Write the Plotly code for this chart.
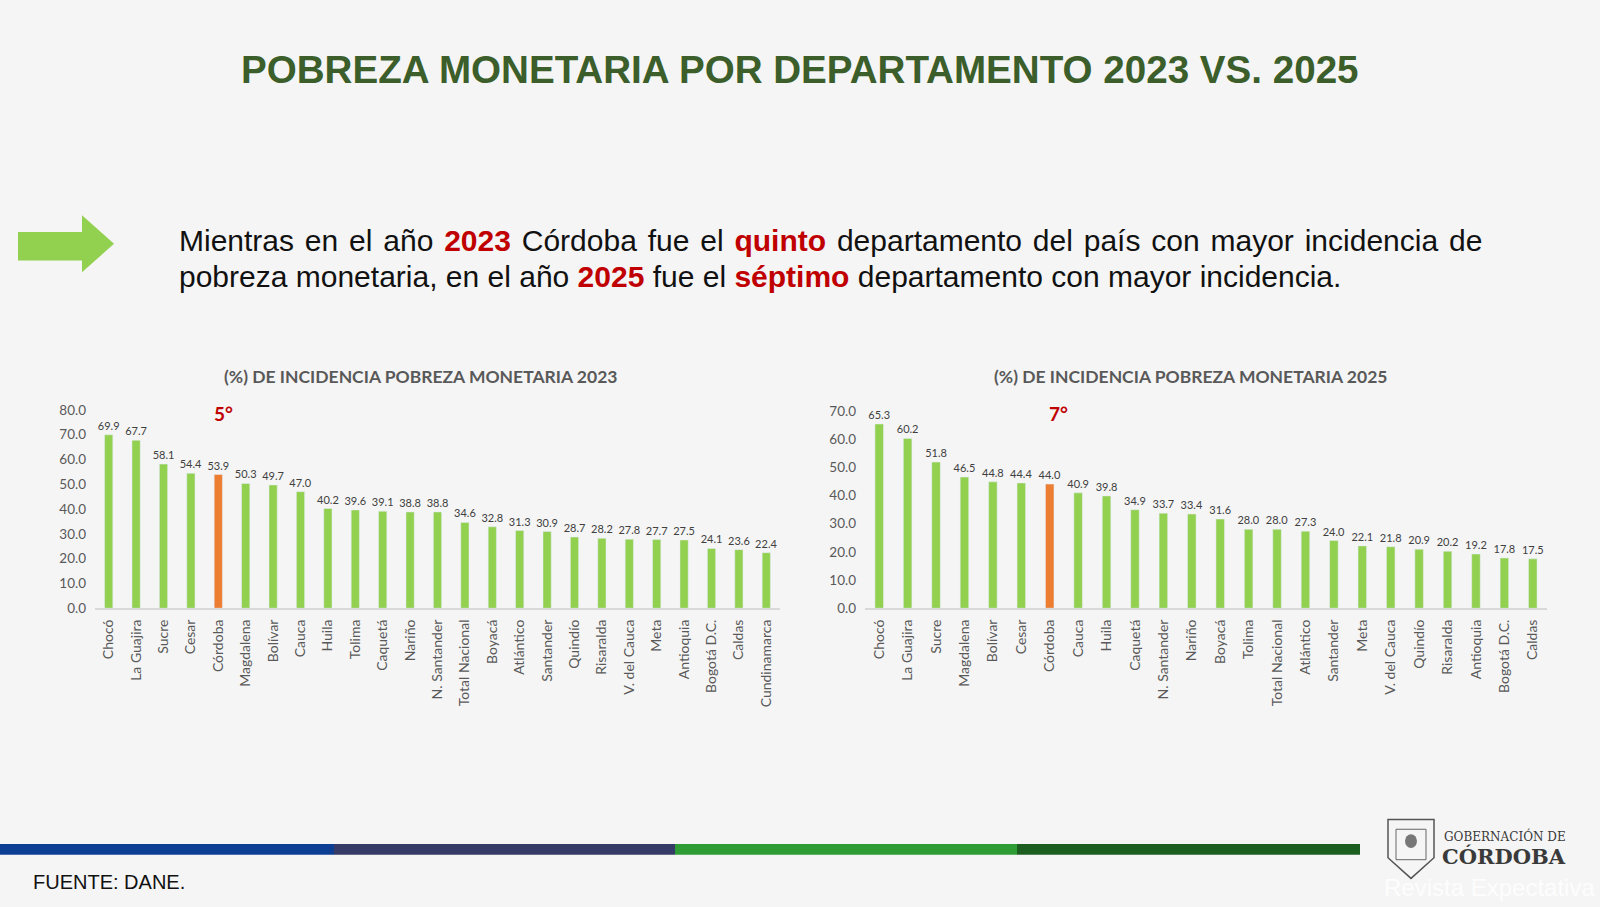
import plotly.graph_objects as go

W, H = 1600, 907

deptos_2023 = ["Chocó", "La Guajira", "Sucre", "Cesar", "Córdoba", "Magdalena", "Bolívar", "Cauca",
               "Huila", "Tolima", "Caquetá", "Nariño", "N. Santander", "Total Nacional", "Boyacá",
               "Atlántico", "Santander", "Quindío", "Risaralda", "V. del Cauca", "Meta", "Antioquia",
               "Bogotá D.C.", "Caldas", "Cundinamarca"]
pobreza_2023 = [69.9, 67.7, 58.1, 54.4, 53.9, 50.3, 49.7, 47.0, 40.2, 39.6, 39.1, 38.8, 38.8, 34.6,
                32.8, 31.3, 30.9, 28.7, 28.2, 27.8, 27.7, 27.5, 24.1, 23.6, 22.4]

deptos_2025 = ["Chocó", "La Guajira", "Sucre", "Magdalena", "Bolívar", "Cesar", "Córdoba", "Cauca",
               "Huila", "Caquetá", "N. Santander", "Nariño", "Boyacá", "Tolima", "Total Nacional",
               "Atlántico", "Santander", "Meta", "V. del Cauca", "Quindío", "Risaralda", "Antioquia",
               "Bogotá D.C.", "Caldas"]
pobreza_2025 = [65.3, 60.2, 51.8, 46.5, 44.8, 44.4, 44.0, 40.9, 39.8, 34.9, 33.7, 33.4, 31.6, 28.0,
                28.0, 27.3, 24.0, 22.1, 21.8, 20.9, 20.2, 19.2, 17.8, 17.5]

VERDE = "#92d050"
NARANJA = "#ed7d31"
ROJO = "#c00000"
GRIS = "#595959"
FONT = "Lato"


def px(x):
    return x / W


def py(y):
    return 1 - y / H


def colores(deptos):
    return [NARANJA if d == "Córdoba" else VERDE for d in deptos]


fig = go.Figure()

fig.add_trace(go.Bar(
    x=deptos_2023, y=pobreza_2023, marker_color=colores(deptos_2023),
    text=[f"{v:.1f}" for v in pobreza_2023], textposition="outside", cliponaxis=False,
    constraintext="none", textfont=dict(size=11, color="#404040", family=FONT), xaxis="x", yaxis="y",
))
fig.add_trace(go.Bar(
    x=deptos_2025, y=pobreza_2025, marker_color=colores(deptos_2025),
    text=[f"{v:.1f}" for v in pobreza_2025], textposition="outside", cliponaxis=False,
    constraintext="none", textfont=dict(size=11, color="#404040", family=FONT), xaxis="x2", yaxis="y2",
))

eje_x = dict(showgrid=False, showline=True, linecolor="#d9d9d9", linewidth=1.5, tickangle=-90,
             tickfont=dict(size=14, color=GRIS, family=FONT), ticks="", ticklabelstandoff=4, fixedrange=True)
eje_y = dict(showgrid=False, zeroline=False, showline=False, tickformat=".1f",
             tickfont=dict(size=13.5, color=GRIS, family=FONT), ticklabelstandoff=8)

fig.update_layout(
    width=W, height=H,
    paper_bgcolor="#f5f5f5", plot_bgcolor="#f5f5f5",
    margin=dict(l=0, r=0, t=0, b=0),
    showlegend=False, bargap=0.7,
    xaxis=dict(eje_x, domain=[px(95), px(780)], anchor="y"),
    yaxis=dict(eje_y, domain=[py(611), py(409)], range=[0, 80], dtick=10, anchor="x"),
    xaxis2=dict(eje_x, domain=[px(865), px(1547)], anchor="y2"),
    yaxis2=dict(eje_y, domain=[py(611), py(410)], range=[0, 70], dtick=10, anchor="x2"),
)

hs = " \u200a"  # espacio + espacio fino para simular el texto justificado
linea1 = hs.join(["Mientras", "en", "el", "año", "<b><span style='color:#c00000'>2023</span></b>", "Córdoba",
                  "fue", "el", "<b><span style='color:#c00000'>quinto</span></b>", "departamento", "del",
                  "país", "con", "mayor", "incidencia", "de"])

anotaciones = [
    dict(x=px(800), y=py(63), text="<b>POBREZA MONETARIA POR DEPARTAMENTO 2023 VS. 2025</b>",
         font=dict(family="Liberation Sans", size=38.6, color="#3b5e2b")),
    dict(x=px(177), y=py(237), xanchor="left", text=linea1,
         font=dict(family="Liberation Sans", size=30, color="#111111")),
    dict(x=px(177), y=py(273), xanchor="left",
         text="pobreza monetaria, en el año <b><span style='color:#c00000'>2025</span></b> fue el "
              "<b><span style='color:#c00000'>séptimo</span></b> departamento con mayor incidencia.",
         font=dict(family="Liberation Sans", size=30, color="#111111")),
    dict(x=px(420), y=py(375), text="<b>(%) DE INCIDENCIA POBREZA MONETARIA 2023</b>",
         font=dict(family=FONT, size=17.5, color=GRIS)),
    dict(x=px(1190), y=py(375), text="<b>(%) DE INCIDENCIA POBREZA MONETARIA 2025</b>",
         font=dict(family=FONT, size=17.5, color=GRIS)),
    dict(x=px(223), y=py(413), text="<b>5°</b>", font=dict(family=FONT, size=19, color=ROJO)),
    dict(x=px(1058), y=py(413), text="<b>7°</b>", font=dict(family=FONT, size=19, color=ROJO)),
    dict(x=px(31), y=py(890), xanchor="left", text="FUENTE: DANE.",
         font=dict(family="Liberation Sans", size=20, color="#111111")),
    dict(x=px(1442), y=py(843), xanchor="left", text="GOBERNACIÓN DE",
         font=dict(family="DejaVu Serif", size=12, color="#3a3a3a")),
    dict(x=px(1440), y=py(864), xanchor="left", text="<b>CÓRDOBA</b>",
         font=dict(family="DejaVu Serif", size=21, color="#3a3a3a")),
    dict(x=px(1597), y=py(895), xanchor="right", text="Revista Expectativa",
         font=dict(family="Liberation Sans", size=24, color="rgba(255,255,255,0.85)")),
]
for a in anotaciones:
    a.update(xref="paper", yref="paper", showarrow=False)
    a.setdefault("xanchor", "center")
    a.setdefault("yanchor", "middle")
    fig.add_annotation(**a)

# flecha verde
flecha = [(18, 228), (82, 228), (82, 211), (114, 240), (82, 269), (82, 257), (18, 257)]
ruta = "M " + " L ".join(f"{px(x)},{py(y)}" for x, y in flecha) + " Z"
fig.add_shape(type="path", path=ruta, xref="paper", yref="paper", fillcolor=VERDE, line_width=0)

# franja inferior
franja = [(0, 334, "#0c3f94"), (334, 675, "#353a66"), (675, 1017, "#2e9c34"), (1017, 1360, "#1b5e20")]
for x0, x1, c in franja:
    fig.add_shape(type="rect", xref="paper", yref="paper", x0=px(x0), x1=px(x1), y0=py(862), y1=py(851),
                  fillcolor=c, line_width=0)

# escudo
escudo = [(1388, 826), (1434, 826), (1434, 865), (1411, 886), (1388, 865)]
ruta = "M " + " L ".join(f"{px(x)},{py(y)}" for x, y in escudo) + " Z"
fig.add_shape(type="path", path=ruta, xref="paper", yref="paper", fillcolor="#f5f5f5",
              line=dict(color="#555555", width=1.5))
fig.add_shape(type="rect", xref="paper", yref="paper", x0=px(1396), x1=px(1426), y0=py(867), y1=py(836),
              fillcolor="rgba(0,0,0,0)", line=dict(color="#666666", width=1))
fig.add_shape(type="circle", xref="paper", yref="paper", x0=px(1405), x1=px(1417), y0=py(855), y1=py(841),
              fillcolor="#777777", line_width=0)

fig.write_html("out.html", config={"displayModeBar": False},
               post_script="document.body.style.margin='0';")
